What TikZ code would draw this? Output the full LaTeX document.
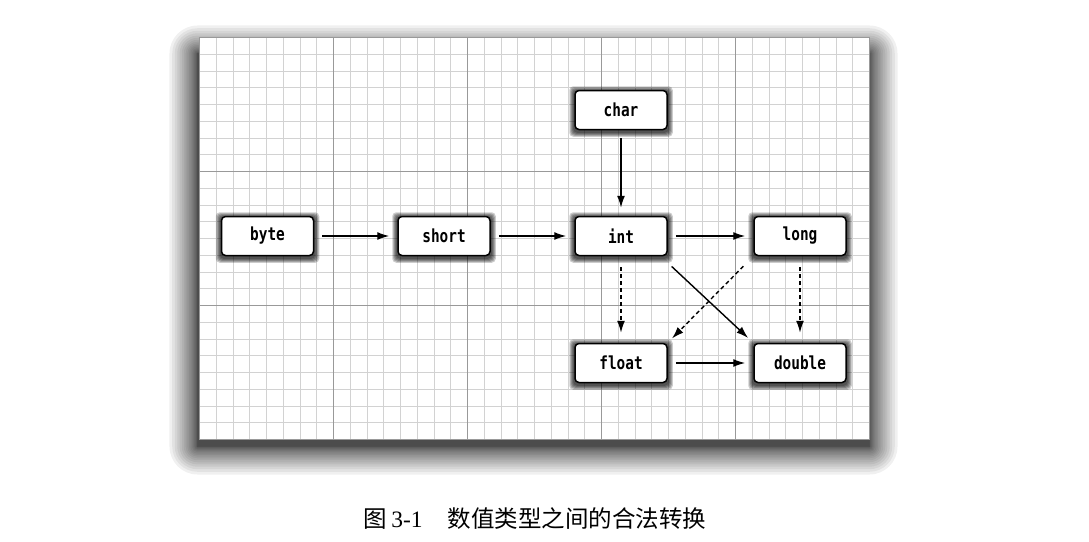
\documentclass[tikz,border=0pt]{standalone}
\usepackage{fontspec}
\newfontfamily\typefont[FakeStretch=0.8]{DejaVu Sans Mono}
\newfontfamily\cjk{Noto Sans CJK SC}
\newfontfamily\capfont{Liberation Serif}
\usetikzlibrary{arrows.meta}
\pgfdeclarelayer{paper}
\pgfdeclarelayer{halo}
\pgfsetlayers{paper,halo,main}
\tikzset{
    typebox/.style = {draw, line width = 1.5pt, fill = white, rounded corners = 4pt,
        minimum width = 92pt, minimum height = 39pt,
        font = \typefont\bfseries\fontsize{18}{18}\selectfont},
    conv/.style = {line width = 1.4pt, -{Latex[length = 12pt, width = 8pt]},
        shorten <= 8pt, shorten >= 8pt},
    lossy/.style = {conv, dash pattern = on 4pt off 3pt,
        shorten <= 11pt, shorten >= 10pt},
    minorline/.style = {gray!35, line width = 0.6pt},
    majorline/.style = {gray!80, line width = 0.9pt},
}
\begin{document}
\begin{tikzpicture}[x = 1pt, y = -1pt]
    \useasboundingbox (0, 0) rectangle (1089, 541);
    % paper with grid
    \begin{pgfonlayer}{paper}
        \foreach \k in {1, ..., 20} {
            \pgfmathsetmacro\r{0.07 * \k * \k}
            \fill[black, opacity = 0.06, rounded corners = \r pt]
                (197.5 - \r, 53.5 - \r) rectangle (869.5 + \r, 446.5 + \r);
        }
        \fill[white] (199.5, 37.5) rectangle (869.5, 439.5);
        \foreach \k in {1, ..., 39}
            \draw[minorline] (199.5 + \k * 16.75, 37.5) -- ++(0, 402);
        \foreach \k in {1, ..., 23}
            \draw[minorline] (199.5, 37.5 + \k * 16.75) -- ++(670, 0);
        \foreach \k in {1, ..., 4}
            \draw[majorline] (199.5 + \k * 134, 37.5) -- ++(0, 402);
        \foreach \k in {1, 2}
            \draw[majorline] (199.5, 37.5 + \k * 134) -- ++(670, 0);
        \draw[majorline] (199.5, 37.5) rectangle (869.5, 439.5);
    \end{pgfonlayer}

    \node[typebox] (byte) at (267.5, 236) {byte};
    \node[typebox] (short) at (444, 236) {short};
    \node[typebox] (int) at (621, 236) {int};
    \node[typebox] (long) at (800, 236) {long};
    \node[typebox] (char) at (621, 110) {char};
    \node[typebox] (float) at (621, 363) {float};
    \node[typebox] (double) at (800, 363) {double};

    % blurred shadows of the boxes
    \begin{pgfonlayer}{halo}
        \foreach \n in {byte, short, int, long, char, float, double}
            \foreach \r in {1, ..., 5}
                \fill[black, opacity = 0.2, rounded corners = 4pt]
                    ([shift = {(-\r, 1.5 - \r)}]\n.north west)
                    rectangle ([shift = {(\r, \r + 1.5)}]\n.south east);
    \end{pgfonlayer}

    \draw[conv] (byte) -- (short);
    \draw[conv] (short) -- (int);
    \draw[conv] (int) -- (long);
    \draw[conv] (char) -- (int);
    \draw[conv] (float) -- (double);
    \draw[lossy] (int) -- (float);
    \draw[lossy] (long) -- (double);
    \draw[conv, shorten <= 15pt, shorten >= 7pt]
        ([xshift = -7pt]int.south east) -- (double.north west);
    \draw[lossy, shorten <= 14pt, shorten >= 6pt]
        (long.south west) -- (float.north east);

    \node[font = \fontsize{23.5}{24}\selectfont] (caption) at (535, 518.5)
        {\cjk 图\kern4pt{\capfont 3-1}\hspace{25pt}数值类型之间的合法转换};
\end{tikzpicture}
\end{document}
